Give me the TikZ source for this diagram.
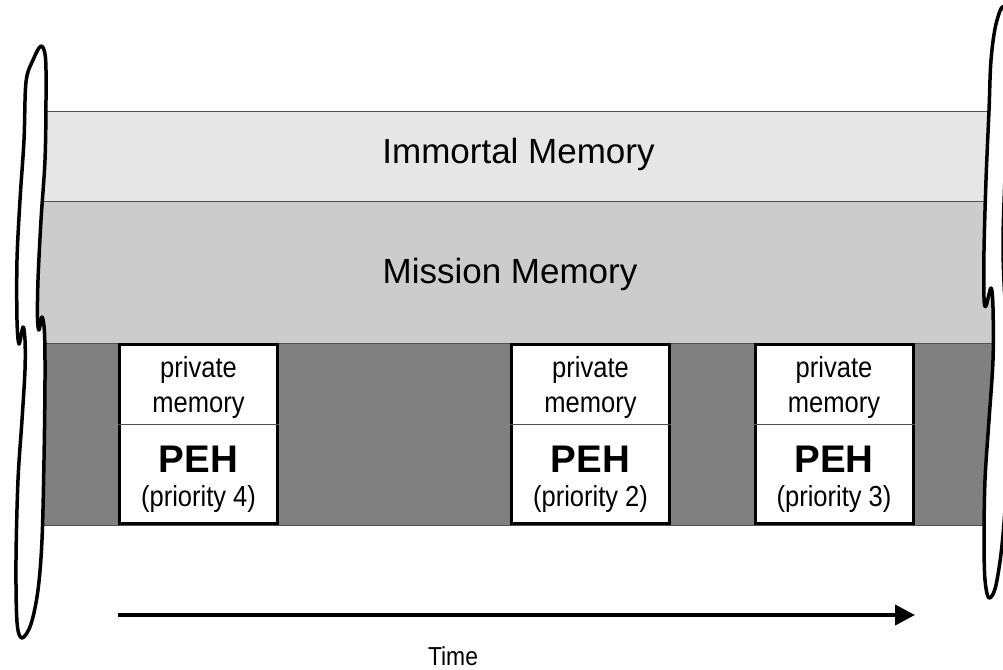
\documentclass[tikz,border=0pt]{standalone}
\usepackage{fontspec}
\setmainfont{Liberation Sans}
\newfontfamily\condfont[FakeStretch=0.88]{Liberation Sans}
\usetikzlibrary{arrows.meta}
\definecolor{immc}{HTML}{E6E6E6}
\definecolor{misc}{HTML}{CCCCCC}
\definecolor{darkc}{HTML}{808080}
\definecolor{edgec}{HTML}{505050}
\begin{document}
\begin{tikzpicture}[x=1pt,y=-1pt,
  band/.style={draw=edgec, line width=1pt},
  pbox/.style={draw=black, fill=white, line width=3pt, minimum width=158pt, minimum height=179pt, inner sep=0pt},
  divline/.style={draw=edgec, line width=0.8pt},
  tear/.style={draw=black, fill=white, line width=3.5pt, line join=round},
  bigtxt/.style={font=\fontsize{35}{40}\selectfont, anchor=base},
  smalltxt/.style={font=\condfont\fontsize{29}{32}\selectfont, anchor=base},
  pehtxt/.style={font=\fontsize{38.5}{44}\selectfont\bfseries, anchor=base},
  timetxt/.style={font=\condfont\fontsize{26}{30}\selectfont, anchor=base},
  timearrow/.style={line width=4pt, -{Triangle[length=20pt,width=20pt]}}
]
\useasboundingbox (0,0) rectangle (1003,669);
\clip (0,0) rectangle (1003,669);
% bands
\path[band, fill=immc] (30,111) rectangle (995,201);
\path[band, fill=misc] (30,201) rectangle (995,343);
\path[band, fill=darkc] (30,343) rectangle (995,525);
\node[bigtxt] (imm) at (518.5,163) {Immortal Memory};
\node[bigtxt] (mis) at (510,283) {Mission Memory};
% boxes
\foreach \n/\cx/\p in {b1/198.5/4, b2/590.5/2, b3/834/3}{
  \node[pbox] (\n) at (\cx,434) {};
  \draw[divline] (\n.west |- 0,424) -- (\n.east |- 0,424);
  \node[smalltxt] (\n p) at (\cx,377) {private};
  \node[smalltxt] (\n m) at (\cx,412) {memory};
  \node[pehtxt] (\n h) at (\cx,472) {PEH};
  \node[smalltxt] (\n r) at (\cx,506) {(priority \p)};
}
% left tear shape
\draw[tear] plot[smooth cycle, tension=0.55] coordinates {
  (41,46) (45.5,58) (46,100) (45,160) (41,220) (38,280) (37.5,318)
  (39,330) (42,317) (44.5,333) (45,380) (44,460) (42,540) (38,590)
  (31,624) (22,638) (17,622) (16,560) (18,480) (22,420) (25,370)
  (25,340) (23,327) (19,344) (17,320) (17,260) (20,200) (24,140)
  (26,82) (33,60)};
% right tear shape
\draw[tear] plot[smooth cycle, tension=0.55] coordinates {
  (1004,8) (996,24) (991,60) (989,110) (986,180) (984,250) (984,298)
  (986,306) (991,288) (993,308) (993,360) (989,420) (985,480) (984,540)
  (985,580) (989,598) (996,585) (1003,535) (1008,450) (1009,340)
  (1005,300) (1003,240) (1006,150) (1009,60)};
% time arrow
\coordinate (tstart) at (118,615);
\coordinate (tend) at (915,615);
\draw[timearrow] (tstart) -- (tend);
\node[timetxt] (time) at (453,665) {Time};
\end{tikzpicture}
\end{document}
